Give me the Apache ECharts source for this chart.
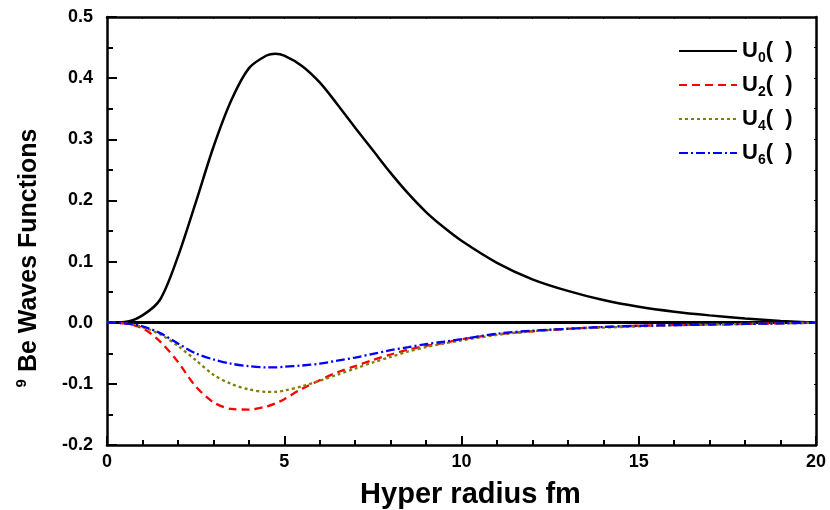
<html>
<head>
<meta charset="utf-8">
<title>9Be waves functions</title>
<script src="https://cdn.jsdelivr.net/npm/echarts@6/dist/echarts.min.js"></script>
<style>
  html, body { margin: 0; padding: 0; background: #fff; }
  #main { width: 830px; height: 510px; }
</style>
</head>
<body>
<div id="main"></div>
<script>
// hyper radius (fm)
var radius = [0, 0.5, 1, 1.5, 2, 2.5, 3, 3.5, 4, 4.5, 4.75, 5, 5.5, 6, 6.5, 7, 7.5, 8, 8.5, 9, 9.5, 10,
              11, 12, 13, 14, 15, 16, 17, 18, 19, 20];
// wave function components
var u0 = [0, 0.001, 0.012, 0.038, 0.108, 0.196, 0.287, 0.363, 0.416, 0.437, 0.440, 0.437, 0.420, 0.393, 0.357,
          0.319, 0.282, 0.245, 0.211, 0.181, 0.156, 0.134, 0.098, 0.071, 0.052, 0.037, 0.026, 0.018, 0.012,
          0.007, 0.003, 0];
var u2 = [0, -0.001, -0.009, -0.031, -0.064, -0.104, -0.130, -0.141, -0.142, -0.137, -0.132, -0.125, -0.108,
          -0.094, -0.081, -0.071, -0.061, -0.052, -0.044, -0.038, -0.033, -0.027, -0.019, -0.014, -0.010,
          -0.007, -0.005, -0.004, -0.003, -0.002, -0.001, 0];
var u4 = [0, -0.001, -0.007, -0.019, -0.038, -0.061, -0.085, -0.100, -0.109, -0.113, -0.113, -0.111, -0.104,
          -0.095, -0.085, -0.075, -0.065, -0.056, -0.047, -0.040, -0.034, -0.029, -0.020, -0.014, -0.010,
          -0.008, -0.006, -0.004, -0.003, -0.002, -0.001, 0];
var u6 = [0, -0.001, -0.006, -0.017, -0.034, -0.050, -0.060, -0.067, -0.071, -0.073, -0.073, -0.072, -0.070,
          -0.067, -0.062, -0.057, -0.051, -0.045, -0.040, -0.035, -0.031, -0.027, -0.018, -0.013, -0.010,
          -0.007, -0.005, -0.004, -0.003, -0.002, -0.001, 0];

var names = ['U0', 'U2', 'U4', 'U6'];
var colors = ['#000000', '#ff0000', '#808000', '#0000ff'];
var dashes = ['solid', [8, 5], [3, 3], [9, 3, 2, 3]];

var FONT = 'Liberation Sans, Arial, sans-serif';

function pairs(ys) {
  var out = [];
  for (var i = 0; i < radius.length; i++) out.push([radius[i], ys[i]]);
  return out;
}

var chart = echarts.init(document.getElementById('main'), null, { renderer: 'canvas' });

var frameLine = { onZero: false, lineStyle: { color: '#000', width: 2.5 } };

var series = [u0, u2, u4, u6].map(function (ys, i) {
  return {
    name: names[i],
    type: 'line',
    data: pairs(ys),
    symbol: 'none',
    smooth: 0.3,
    lineStyle: { color: colors[i], width: i === 0 ? 2.5 : 2.3, type: dashes[i] },
    itemStyle: { color: colors[i] },
    z: 3
  };
});
// zero line across the plot
series[0].markLine = {
  silent: true,
  symbol: ['none', 'none'],
  label: { show: false },
  lineStyle: { color: '#000', width: 2.8, type: 'solid' },
  data: [{ yAxis: 0 }],
  z: 2
};

chart.setOption({
  animation: false,
  backgroundColor: '#fff',
  grid: { left: 107, right: 14, top: 17, bottom: 65, containLabel: false, outerBoundsMode: 'none' },
  legend: {
    orient: 'vertical',
    left: 673,
    top: 30,
    itemWidth: 58,
    itemHeight: 14,
    itemGap: 4,
    data: names,
    itemStyle: { opacity: 0 },
    formatter: function (name) {
      return '{b|U}{s|' + name.charAt(1) + '}{b|(  )}';
    },
    textStyle: {
      rich: {
        b: { fontFamily: FONT, fontWeight: 'bold', fontSize: 22, color: '#000', lineHeight: 28 },
        s: { fontFamily: FONT, fontWeight: 'bold', fontSize: 14, color: '#000', lineHeight: 14,
             padding: [16, 0, 0, 0], verticalAlign: 'bottom' }
      }
    }
  },
  xAxis: [{
    type: 'value',
    position: 'bottom',
    min: 0, max: 20, interval: 5,
    axisLine: frameLine,
    axisTick: { inside: true, length: 9, lineStyle: { width: 2 } },
    minorTick: { show: true, splitNumber: 5, length: 5, lineStyle: { color: '#000', width: 2 } },
    splitLine: { show: false },
    axisLabel: { color: '#000', fontFamily: FONT, fontWeight: 'bold', fontSize: 18, margin: 8 },
    name: 'Hyper radius fm',
    nameLocation: 'middle',
    nameGap: 35,
    nameTextStyle: { color: '#000', fontFamily: FONT, fontWeight: 'bold', fontSize: 29, padding: [0, 0, 0, 18] }
  }, {
    type: 'value',
    position: 'top',
    min: 0, max: 20, interval: 1,
    axisLine: frameLine,
    axisTick: { inside: true, length: 2, lineStyle: { width: 1 } },
    axisLabel: { show: false },
    splitLine: { show: false }
  }],
  yAxis: [{
    type: 'value',
    position: 'left',
    min: -0.2, max: 0.5, interval: 0.1,
    axisLine: frameLine,
    axisTick: { inside: true, length: 10, lineStyle: { width: 2 } },
    minorTick: { show: true, splitNumber: 2, length: 6, lineStyle: { color: '#000', width: 2 } },
    splitLine: { show: false },
    axisLabel: {
      color: '#000', fontFamily: FONT, fontWeight: 'bold', fontSize: 18, margin: 14,
      formatter: function (v) { return v.toFixed(1); }
    }
  }, {
    type: 'value',
    position: 'right',
    min: -0.2, max: 0.5, interval: 0.05,
    axisLine: frameLine,
    axisTick: { inside: true, length: 2, lineStyle: { width: 1 } },
    axisLabel: { show: false },
    splitLine: { show: false }
  }],
  // y title with a superscript mass number
  graphic: [{
    type: 'text',
    x: 29,
    y: 258,
    rotation: Math.PI / 2,
    style: {
      text: '{s|9}{m|Be Waves Functions}',
      align: 'center',
      verticalAlign: 'middle',
      rich: {
        s: { fontFamily: FONT, fontWeight: 'bold', fontSize: 15, fill: '#000', lineHeight: 14,
             verticalAlign: 'top', padding: [0, 7, 0, 0] },
        m: { fontFamily: FONT, fontWeight: 'bold', fontSize: 25, fill: '#000', lineHeight: 30 }
      }
    }
  }],
  series: series
});
</script>
</body>
</html>
